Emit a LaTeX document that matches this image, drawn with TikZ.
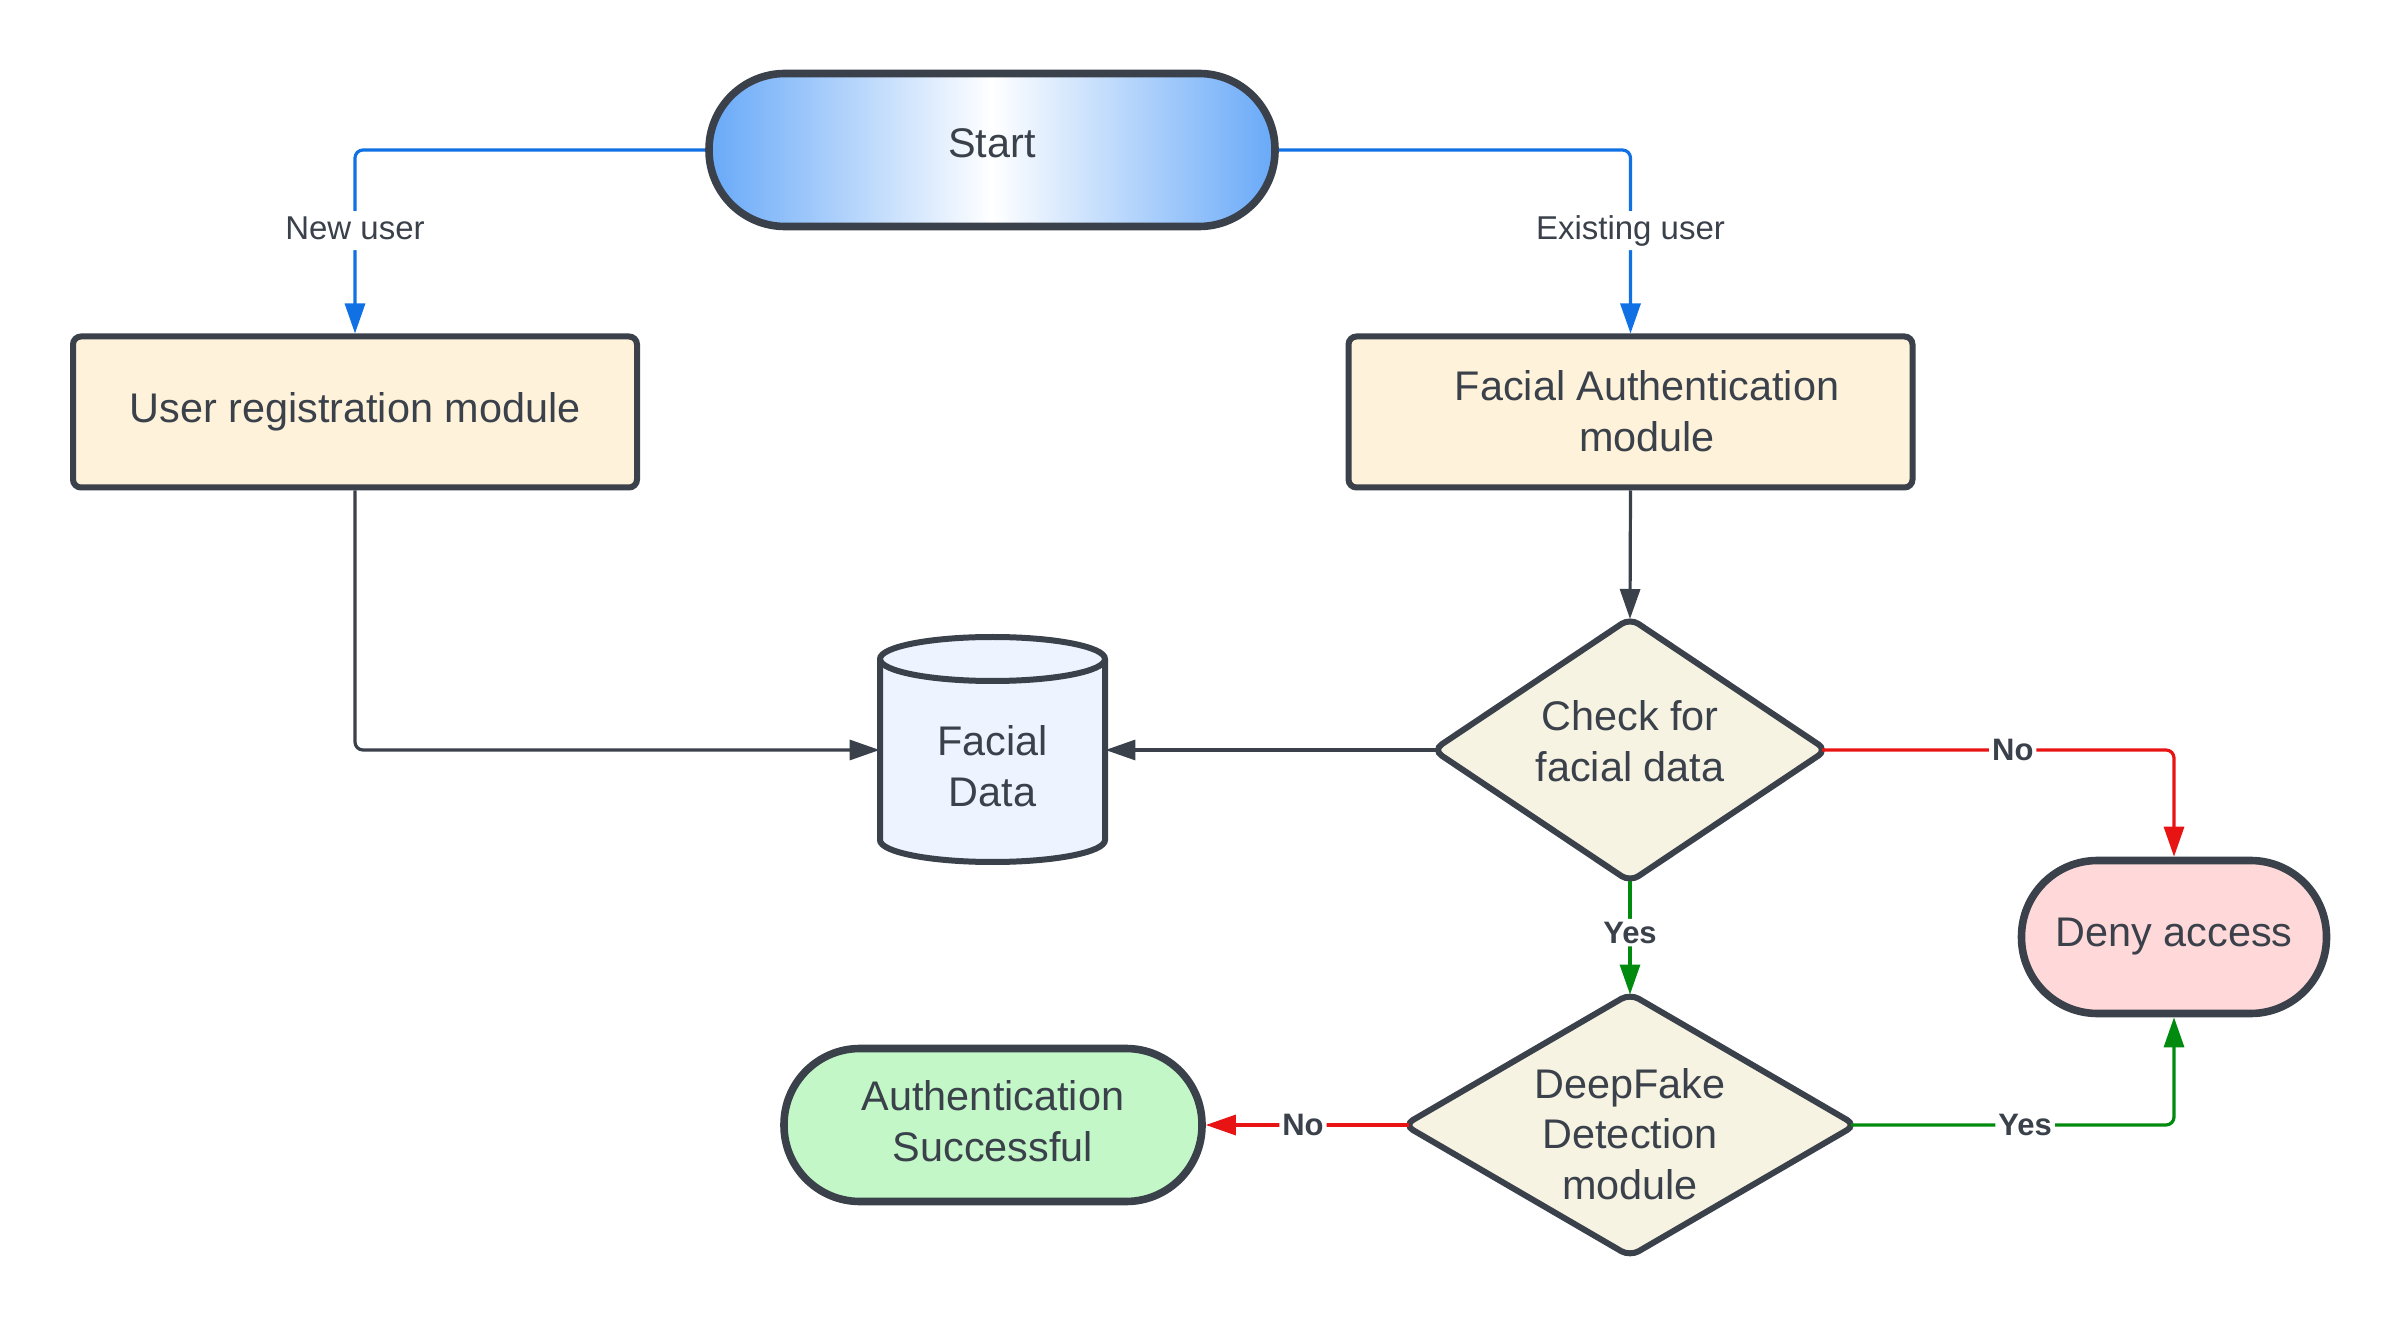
\documentclass[tikz,border=0pt]{standalone}
\usepackage{fontspec}
\setmainfont{Liberation Sans}
\usetikzlibrary{arrows.meta,shapes.geometric}
\definecolor{ink}{HTML}{3A414A}
\definecolor{bluec}{HTML}{1071E5}
\definecolor{redc}{HTML}{E81313}
\definecolor{greenc}{HTML}{008A0E}
\definecolor{startblue}{HTML}{68A9F8}
\definecolor{modfill}{HTML}{FEF2DA}
\definecolor{decfill}{HTML}{F6F3E3}
\definecolor{dbfill}{HTML}{EDF4FF}
\definecolor{denyfill}{HTML}{FFD9D9}
\definecolor{okfill}{HTML}{C3F7C8}
\begin{document}
\begin{tikzpicture}[x=0.5pt,y=-0.5pt,
  every node/.style={text=ink, font=\fontsize{20.7pt}{25.3pt}\selectfont, align=center, inner sep=0pt},
  terminal/.style={draw=ink, line width=3.8pt, rectangle, rounded corners=38pt, minimum height=76.5pt},
  modbox/.style={draw=ink, line width=3pt, rectangle, rounded corners=4pt, fill=modfill, minimum width=282pt, minimum height=75.5pt},
  decision/.style={draw=ink, line width=3pt, diamond, aspect=1.6, rounded corners=5pt, fill=decfill},
  conn/.style={line width=1.6pt, rounded corners=4pt, -{Triangle[length=15pt,width=10pt]}},
  lbl/.style={fill=white, text=ink, font=\fontsize{16.5pt}{20pt}\selectfont, inner sep=2pt, text height=12pt, text depth=3.5pt},
  blbl/.style={fill=white, text=ink, font=\bfseries\fontsize{15.5pt}{19pt}\selectfont, inner sep=1.5pt}
]
\useasboundingbox (0,0) rectangle (2400,1331);

% terminals
\node[terminal, minimum width=283pt, left color=startblue, right color=startblue, middle color=white] (start) at (992,150) {};
\node (starttext) at (992,143) {Start};
\node[terminal, fill=denyfill, minimum width=152.5pt] (deny) at (2174,937) {Deny access};
\node[terminal, fill=okfill, minimum width=209pt] (auth) at (993,1125) {};
\node (authtext) at (993,1121) {Authentication\\Successful};

% modules
\node[modbox] (ur) at (355,412) {User registration module};
\node[modbox] (fa) at (1630.5,412) {};
\node (fatext) at (1647,411) {Facial Authentication\\module};

% decisions
\node[decision, minimum width=198pt, minimum height=133pt] (chk) at (1630,750) {};
\node (chktext) at (1630,741) {Check for\\facial data};
\node[decision, minimum width=227pt, minimum height=132.5pt] (df) at (1630,1125) {};
\node (dftext) at (1630,1134) {DeepFake\\Detection\\module};

% data store (cylinder)
\node[minimum width=112.5pt, minimum height=112.5pt] (fd) at (992.5,750) {};
\draw[draw=ink, line width=3pt, fill=dbfill]
  (880,659) -- (880,840) arc[start angle=180, end angle=360, x radius=56.25pt, y radius=11pt]
  -- (1105,659) arc[start angle=0, end angle=180, x radius=56.25pt, y radius=11pt] -- cycle;
\draw[draw=ink, line width=3pt]
  (880,659) arc[start angle=180, end angle=360, x radius=56.25pt, y radius=11pt];
\node (fdtext) at (992.5,766) {Facial\\Data};

% connectors
\draw[conn, bluec] (start.west) -| node[lbl, pos=0.72] {New user} (ur.north);
\draw[conn, bluec] (start.east) -| node[lbl, pos=0.72] {Existing user} (fa.north);
\draw[conn, ink] (ur.south) |- (fd.west);
\draw[conn, ink, shorten >=-2.5pt] (fa.south) -- (chk.north);
\draw[conn, ink, shorten <=-4.5pt] (chk.west) -- (fd.east);
\draw[conn, redc, shorten <=-4.5pt] (chk.east) -| node[blbl, pos=0.265] {No} (deny.north);
\draw[conn, greenc, shorten <=-2.5pt, shorten >=-2.5pt] (chk.south) -- node[blbl, pos=0.45] {Yes} (df.north);
\draw[conn, redc, shorten <=-4.5pt] (df.west) -- node[blbl] {No} (auth.east);
\draw[conn, greenc, shorten <=-4.5pt] (df.east) -| node[blbl, pos=0.263] {Yes} (deny.south);
\end{tikzpicture}
\end{document}
